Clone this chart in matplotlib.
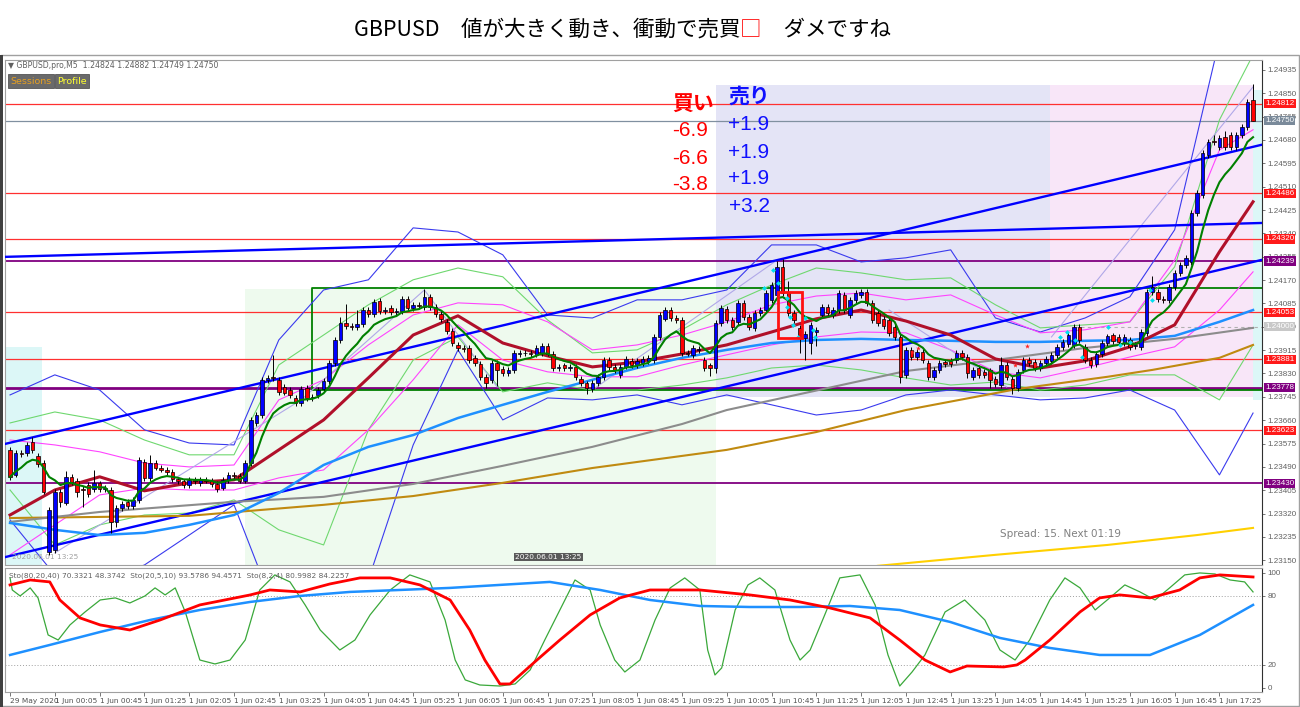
import matplotlib
matplotlib.use('Agg')
import matplotlib.pyplot as plt
from matplotlib.patches import Rectangle
from matplotlib.offsetbox import TextArea, HPacker, AnchoredOffsetbox
import pandas as pd

CJK = ['Noto Sans CJK JP', 'DejaVu Sans']

# ---- M5 candles, bar 0 = 29 May 23:25, bar 8 = 1 Jun 00:05
opens = [
    1.23552, 1.23462, 1.23541, 1.23541, 1.23580, 1.23530, 1.23506, 1.23180, 1.23188, 1.23400,
    1.23360, 1.23454, 1.23440, 1.23410, 1.23425, 1.23410, 1.23430, 1.23410, 1.23406, 1.23290,
    1.23340, 1.23363, 1.23348, 1.23370, 1.23508, 1.23450, 1.23505, 1.23487, 1.23480, 1.23472,
    1.23445, 1.23437, 1.23425, 1.23443, 1.23432, 1.23443, 1.23440, 1.23428, 1.23415, 1.23443,
    1.23460, 1.23457, 1.23440, 1.23505, 1.23650, 1.23679, 1.23807, 1.23818, 1.23807, 1.23780,
    1.23770, 1.23741, 1.23723, 1.23777, 1.23741, 1.23752, 1.23774, 1.23803, 1.23868, 1.23952,
    1.24014, 1.24003, 1.24000, 1.24010, 1.24061, 1.24047, 1.24094, 1.24057, 1.24068, 1.24054,
    1.24058, 1.24101, 1.24068, 1.24079, 1.24072, 1.24108, 1.24072, 1.24047, 1.24018, 1.23985,
    1.23934, 1.23923, 1.23923, 1.23886, 1.23864, 1.23817, 1.23807, 1.23868, 1.23846, 1.23832,
    1.23843, 1.23900, 1.23905, 1.23905, 1.23899, 1.23905, 1.23930, 1.23902, 1.23850, 1.23860,
    1.23850, 1.23855, 1.23810, 1.23794, 1.23774, 1.23796, 1.23817, 1.23879, 1.23854, 1.23825,
    1.23855, 1.23875, 1.23860, 1.23868, 1.23875, 1.23879, 1.23963, 1.24030, 1.24061, 1.24032,
    1.24025, 1.23905, 1.23897, 1.23915, 1.23879, 1.23860, 1.23850, 1.24014, 1.24065, 1.24025,
    1.24018, 1.24087, 1.24036, 1.23996, 1.24050, 1.24061, 1.24098, 1.24116, 1.24218, 1.24127,
    1.24050, 1.23996, 1.23960, 1.23941, 1.23980, 1.24043, 1.24072, 1.24043, 1.24061, 1.24116,
    1.24043, 1.24098, 1.24116, 1.24127, 1.24087, 1.24050, 1.24030, 1.24025, 1.24000, 1.23963,
    1.23825, 1.23916, 1.23890, 1.23909, 1.23868, 1.23817, 1.23843, 1.23872, 1.23875, 1.23879,
    1.23905, 1.23890, 1.23817, 1.23850, 1.23835, 1.23841, 1.23810, 1.23788, 1.23861, 1.23810,
    1.23777, 1.23843, 1.23879, 1.23872, 1.23850, 1.23868, 1.23876, 1.23897, 1.23927, 1.23938,
    1.23934, 1.23999, 1.23927, 1.23879, 1.23864, 1.23901, 1.23941, 1.23969, 1.23963, 1.23941,
    1.23952, 1.23930, 1.23927, 1.23977, 1.24127, 1.24127, 1.24101, 1.24098, 1.24145, 1.24196,
    1.24225, 1.24236, 1.24414, 1.24480, 1.24626, 1.24677, 1.24655, 1.24691, 1.24698, 1.24655,
    1.24698, 1.24728, 1.24824,
]
closes = [
    1.23454, 1.23541, 1.23537, 1.23570, 1.23552, 1.23500, 1.23400, 1.23333, 1.23400, 1.23363,
    1.23454, 1.23435, 1.23400, 1.23405, 1.23390, 1.23430, 1.23410, 1.23415, 1.23290, 1.23340,
    1.23355, 1.23348, 1.23370, 1.23515, 1.23450, 1.23505, 1.23487, 1.23480, 1.23472, 1.23445,
    1.23437, 1.23425, 1.23443, 1.23437, 1.23443, 1.23440, 1.23428, 1.23410, 1.23443, 1.23460,
    1.23457, 1.23440, 1.23505, 1.23661, 1.23679, 1.23807, 1.23815, 1.23812, 1.23763, 1.23760,
    1.23752, 1.23723, 1.23774, 1.23741, 1.23745, 1.23770, 1.23803, 1.23868, 1.23952, 1.24014,
    1.24003, 1.24000, 1.24010, 1.24061, 1.24047, 1.24090, 1.24057, 1.24061, 1.24054, 1.24058,
    1.24101, 1.24068, 1.24079, 1.24075, 1.24108, 1.24072, 1.24047, 1.24029, 1.23985, 1.23941,
    1.23923, 1.23920, 1.23879, 1.23868, 1.23817, 1.23796, 1.23868, 1.23843, 1.23832, 1.23843,
    1.23905, 1.23905, 1.23903, 1.23900, 1.23923, 1.23930, 1.23902, 1.23850, 1.23854, 1.23850,
    1.23855, 1.23817, 1.23794, 1.23777, 1.23796, 1.23817, 1.23879, 1.23854, 1.23843, 1.23855,
    1.23883, 1.23860, 1.23875, 1.23883, 1.23886, 1.23963, 1.24043, 1.24061, 1.24032, 1.24025,
    1.23905, 1.23902, 1.23923, 1.23920, 1.23850, 1.23850, 1.24014, 1.24068, 1.24025, 1.24000,
    1.24087, 1.24036, 1.24000, 1.24050, 1.24061, 1.24123, 1.24152, 1.24218, 1.24123, 1.24050,
    1.24025, 1.23963, 1.23975, 1.24007, 1.23990, 1.24072, 1.24050, 1.24061, 1.24123, 1.24061,
    1.24098, 1.24123, 1.24127, 1.24087, 1.24025, 1.24014, 1.24003, 1.23978, 1.23963, 1.23817,
    1.23916, 1.23890, 1.23909, 1.23879, 1.23817, 1.23843, 1.23868, 1.23864, 1.23864, 1.23905,
    1.23890, 1.23832, 1.23843, 1.23825, 1.23825, 1.23807, 1.23792, 1.23861, 1.23817, 1.23777,
    1.23836, 1.23879, 1.23868, 1.23850, 1.23868, 1.23883, 1.23897, 1.23927, 1.23945, 1.23970,
    1.23999, 1.23952, 1.23879, 1.23860, 1.23901, 1.23941, 1.23965, 1.23948, 1.23945, 1.23963,
    1.23927, 1.23934, 1.23981, 1.24127, 1.24145, 1.24101, 1.24098, 1.24145, 1.24196, 1.24225,
    1.24251, 1.24414, 1.24487, 1.24633, 1.24673, 1.24673, 1.24688, 1.24655, 1.24655, 1.24698,
    1.24728, 1.24818, 1.24750,
]
# wick lengths above / below the body, in pips
wick_up = [
    1, 1, 1, 1, 2, 1, 1, 1, 1, 1, 2, 1, 1, 1, 1, 5, 1, 1, 1, 1,
    1, 1, 1, 1, 1, 3, 1, 1, 1, 1, 1, 1, 1, 1, 1, 1, 1, 1, 1, 1,
    1, 1, 1, 1, 1, 1, 1, 8, 1, 1, 1, 1, 1, 1, 1, 1, 1, 1, 1, 2,
    7, 1, 5, 1, 1, 1, 1, 1, 1, 1, 1, 1, 1, 1, 3, 1, 1, 1, 1, 1,
    1, 1, 1, 1, 1, 1, 1, 1, 1, 1, 1, 1, 1, 1, 1, 1, 1, 1, 1, 1,
    1, 1, 1, 1, 1, 1, 1, 1, 1, 1, 1, 1, 1, 1, 1, 1, 1, 1, 1, 1,
    1, 1, 1, 1, 1, 1, 1, 1, 1, 1, 1, 1, 1, 1, 1, 1, 1, 2, 3, 4,
    1, 1, 1, 1, 1, 1, 1, 1, 1, 1, 1, 1, 1, 1, 1, 1, 1, 1, 1, 1,
    1, 1, 1, 1, 1, 1, 1, 1, 1, 1, 1, 1, 1, 1, 1, 1, 1, 3, 1, 1,
    1, 1, 1, 1, 1, 1, 1, 1, 1, 1, 1, 1, 1, 1, 1, 1, 1, 1, 1, 1,
    1, 1, 1, 1, 4, 1, 1, 1, 1, 1, 1, 1, 1, 1, 1, 2, 1, 2, 1, 1,
    1, 1, 6,
]
wick_dn = [
    1, 1, 1, 1, 1, 1, 1, 1, 1, 2, 1, 1, 2, 6, 1, 1, 1, 1, 4, 2,
    1, 1, 1, 1, 1, 1, 1, 1, 1, 1, 1, 1, 1, 1, 1, 1, 1, 1, 1, 1,
    1, 1, 1, 1, 1, 1, 1, 1, 1, 1, 1, 1, 1, 1, 1, 1, 1, 1, 1, 1,
    1, 1, 1, 1, 1, 1, 1, 1, 1, 1, 1, 1, 1, 1, 1, 1, 1, 1, 1, 1,
    1, 1, 1, 1, 1, 2, 1, 6, 1, 1, 1, 1, 1, 1, 1, 1, 1, 1, 1, 1,
    1, 1, 1, 2, 1, 1, 1, 1, 1, 1, 1, 1, 1, 1, 1, 1, 1, 1, 1, 1,
    1, 1, 1, 1, 1, 3, 2, 1, 1, 1, 1, 1, 1, 1, 1, 1, 1, 1, 1, 1,
    1, 6, 8, 4, 5, 1, 1, 1, 1, 1, 1, 1, 1, 1, 1, 1, 1, 1, 1, 2,
    1, 1, 1, 1, 1, 1, 1, 1, 1, 1, 1, 2, 1, 1, 1, 3, 1, 1, 1, 2,
    1, 1, 1, 1, 1, 1, 1, 1, 1, 1, 1, 1, 1, 1, 1, 1, 1, 1, 1, 1,
    1, 1, 1, 1, 1, 1, 1, 1, 1, 1, 1, 1, 1, 1, 1, 1, 1, 1, 1, 1,
    1, 1, 0,
]

# ---- indicator lines every 8 bars
ma_bars = [0, 8, 16, 24, 32, 40, 48, 56, 64, 72, 80, 88, 96, 104, 112, 120,
           128, 136, 144, 152, 160, 168, 176, 184, 192, 200, 208, 216, 222]
red_ma = [1.23315, 1.23406, 1.23454, 1.23403, 1.23432, 1.23443, 1.23552, 1.23661, 1.23814, 1.23970,
          1.24040, 1.23941, 1.23894, 1.23854, 1.23872, 1.23901, 1.23934, 1.23981, 1.24029, 1.24061,
          1.24021, 1.23970, 1.23883, 1.23850, 1.23876, 1.23927, 1.24007, 1.24273, 1.24455]
blue_ma = [1.23286, 1.23261, 1.23242, 1.23250, 1.23279, 1.23315, 1.23395, 1.23497, 1.23563, 1.23606,
           1.23668, 1.23716, 1.23763, 1.23807, 1.23850, 1.23887, 1.23916, 1.23941, 1.23952, 1.23956,
           1.23952, 1.23949, 1.23945, 1.23945, 1.23949, 1.23952, 1.23967, 1.24018, 1.24061]
bb_blue_up = [1.23752, 1.23825, 1.23770, 1.23625, 1.23577, 1.23570, 1.23952, 1.24134, 1.24171, 1.24360,
              1.24345, 1.24262, 1.24043, 1.24032, 1.24098, 1.24098, 1.24134, 1.24298, 1.24298, 1.24236,
              1.24251, 1.24280, 1.24032, 1.23981, 1.24032, 1.24109, 1.24353, 1.25044, 1.25554]
bb_blue_dn = [1.23297, 1.23097, 1.23079, 1.23133, 1.23242, 1.23352, 1.22933, 1.22860, 1.23079, 1.23570,
              1.23916, 1.23661, 1.23741, 1.23734, 1.23752, 1.23716, 1.23752, 1.23716, 1.23679, 1.23697,
              1.23752, 1.23770, 1.23752, 1.23734, 1.23741, 1.23770, 1.23697, 1.23461, 1.23686]
bb_green_up = [1.23650, 1.23690, 1.23661, 1.23588, 1.23534, 1.23534, 1.23861, 1.23970, 1.24080, 1.24171,
               1.24214, 1.24182, 1.24025, 1.23905, 1.23916, 1.23989, 1.24080, 1.24152, 1.24214, 1.24196,
               1.24171, 1.24178, 1.24080, 1.23996, 1.24007, 1.24018, 1.24218, 1.24753, 1.24990]
bb_green_dn = [1.23406, 1.23206, 1.23279, 1.23315, 1.23322, 1.23370, 1.23261, 1.23206, 1.23625, 1.23879,
               1.23963, 1.23763, 1.23796, 1.23770, 1.23770, 1.23788, 1.23814, 1.23850, 1.23861, 1.23843,
               1.23814, 1.23788, 1.23799, 1.23770, 1.23788, 1.23825, 1.23825, 1.23734, 1.23934]
bb_pink_up = [1.23588, 1.23570, 1.23545, 1.23504, 1.23490, 1.23497, 1.23734, 1.23807, 1.23934, 1.24043,
              1.24087, 1.24080, 1.24018, 1.23916, 1.23934, 1.23970, 1.24018, 1.24080, 1.24112, 1.24123,
              1.24098, 1.24116, 1.24043, 1.23978, 1.23989, 1.24018, 1.24243, 1.24644, 1.24717]
bb_pink_dn = [1.23170, 1.23279, 1.23388, 1.23413, 1.23406, 1.23406, 1.23450, 1.23479, 1.23625, 1.23807,
              1.24007, 1.23879, 1.23836, 1.23818, 1.23818, 1.23861, 1.23898, 1.23934, 1.23963, 1.23981,
              1.23978, 1.23916, 1.23836, 1.23814, 1.23850, 1.23890, 1.23927, 1.24061, 1.24200]

gray_bars = [0, 16, 40, 56, 72, 88, 104, 120, 128, 160, 176, 192, 208, 222]
gray_ma = [1.23290, 1.23326, 1.23363, 1.23381, 1.23428, 1.23494, 1.23563, 1.23646, 1.23697, 1.23839,
           1.23879, 1.23923, 1.23956, 1.23996]
brown_bars = [0, 16, 32, 56, 72, 88, 104, 128, 144, 160, 180, 196, 204, 216, 222]
brown_ma = [1.23304, 1.23308, 1.23312, 1.23352, 1.23384, 1.23432, 1.23486, 1.23552, 1.23617, 1.23697,
            1.23774, 1.23818, 1.23843, 1.23887, 1.23934]
gold_bars = [155, 176, 196, 212, 222]
gold_ma = [1.23130, 1.23170, 1.23206, 1.23242, 1.23268]

# thin zigzag lines
zz_segments = [
    ([8, 52, 74, 87], [1.23177, 1.23734, 1.24134, 1.23781]),
    ([104, 137], [1.23770, 1.24243]),
    ([157, 178], [1.24061, 1.23781]),
    ([186, 222], [1.23963, 1.24873]),
]
cyan_bars = [134.6, 136.3, 137.1, 138.8, 138.8, 139.3, 139.8, 140.7, 142.0, 143.4, 143.8,
             187.5, 188.8, 190.2, 191.4, 196.1, 198.2, 200.0, 203.6, 203.9]
cyan_prices = [1.24141, 1.24207, 1.24160, 1.24105, 1.24072, 1.24036, 1.24007, 1.23963, 1.24032, 1.23989,
               1.23963, 1.23963, 1.23981, 1.23952, 1.23890, 1.23999, 1.23934, 1.23945, 1.24134, 1.24098]
star_bars = [161.1, 162.1, 179.5, 181.6, 183.0]
star_prices = [1.23909, 1.23923, 1.23861, 1.23930, 1.23861]

# trend lines: two anchor points each (bar, price)
trend_lines = [((0, 1.23578), (222, 1.24655)),
               ((0, 1.23166), (222, 1.24236)),
               ((0, 1.24255), (222, 1.24377))]

red_levels = [1.24812, 1.24486, 1.24320, 1.24053, 1.23881, 1.23623]
purple_levels = [1.24239, 1.23778, 1.23430]
last_price = 1.24750
mid_level = 1.24000

# session boxes: start bar, end bar, low, high, colour
sess_start = [-0.9, 42, 126, 185.7, 222]
sess_end = [5.7, 126, 185.7, 222, 223.6]
sess_low = [1.23133, 1.23133, 1.23745, 1.23745, 1.23734]
sess_high = [1.23927, 1.24138, 1.24880, 1.24880, 1.24862]
sess_col = ['#dcf7f7', '#eefaee', '#e4e4f6', '#f8e6f8', '#dcf7f7']

price_ticks = [1.23150, 1.23235, 1.23320, 1.23405, 1.23490, 1.23575, 1.23660, 1.23745, 1.23830,
               1.23915, 1.24000, 1.24085, 1.24170, 1.24255, 1.24340, 1.24425, 1.24510, 1.24595,
               1.24680, 1.24765, 1.24850, 1.24935]
time_labels = ['29 May 2020', '1 Jun 00:05', '1 Jun 00:45', '1 Jun 01:25', '1 Jun 02:05', '1 Jun 02:45',
               '1 Jun 03:25', '1 Jun 04:05', '1 Jun 04:45', '1 Jun 05:25', '1 Jun 06:05', '1 Jun 06:45',
               '1 Jun 07:25', '1 Jun 08:05', '1 Jun 08:45', '1 Jun 09:25', '1 Jun 10:05', '1 Jun 10:45',
               '1 Jun 11:25', '1 Jun 12:05', '1 Jun 12:45', '1 Jun 13:25', '1 Jun 14:05', '1 Jun 14:45',
               '1 Jun 15:25', '1 Jun 16:05', '1 Jun 16:45', '1 Jun 17:25']

# ---- stochastics
sto_slow_bars = [0, 7.1, 16.1, 25, 33.9, 42.9, 51.8, 60.7, 69.6, 78.6, 87.5, 96.4, 105.4, 114.3,
                 123.2, 132.1, 141.1, 150, 158.9, 167.9, 176.8, 185.7, 194.6, 203.6, 212.5, 222]
sto_slow = [28.7, 37.4, 48.7, 59.1, 67.8, 74.8, 80.0, 83.5, 85.2, 87.0, 89.6, 92.2, 85.2, 76.5,
            71.3, 70.4, 70.4, 71.3, 67.8, 57.4, 43.5, 34.8, 28.7, 28.7, 46.1, 72.2]
sto_mid_bars = [0, 3.6, 7.1, 8.9, 12.5, 16.1, 21.4, 26.8, 33.9, 42.9, 46.4, 51.8, 57.1, 62.5, 67.9,
                73.2, 78.6, 82.1, 84.8, 87.5, 89.3, 94.1, 98.2, 103.6, 108.9, 114.3, 123.2, 132.1,
                139.3, 146.4, 153.6, 158.9, 163.4, 167.9, 170.9, 177.5, 179.8, 181.3, 185.7, 191.1,
                194.6, 198.2, 203.6, 208.9, 212.5, 216.1, 222]
sto_mid = [89.6, 93.9, 92.2, 76.5, 60.9, 54.8, 50.4, 59.1, 72.2, 80.9, 85.2, 83.5, 90.4, 95.7, 95.7,
           89.6, 76.5, 50.4, 24.3, 3.5, 3.5, 24.3, 41.7, 63.5, 78.3, 85.2, 85.2, 80.9,
           76.5, 69.6, 60.9, 41.7, 24.3, 13.9, 19.1, 18.3, 20.0, 24.3, 41.7, 66.1,
           78.3, 80.9, 78.3, 85.2, 95.7, 98.3, 96.5]
sto_fast_bars = [0, 0.4, 1.8, 3.6, 5.0, 6.8, 8.6, 10.7, 13.4, 16.1, 18.8, 21.4, 24.1, 25.9, 27.7,
                 29.5, 31.3, 33.9, 36.6, 39.3, 42.0, 44.6, 47.3, 50.0, 52.7, 55.4, 58.9, 61.6, 64.3,
                 67.9, 71.4, 75.0, 77.7, 79.5, 81.3, 83.9, 87.5, 90.2, 92.9, 95.5, 98.2, 100.9, 103.6,
                 105.4, 108.0, 109.8, 112.5, 115.2, 117.9, 120.5, 123.2, 124.6, 125.9, 127.1, 129.5,
                 131.8, 133.9, 136.6, 139.3, 141.1, 142.9, 145.5, 148.2, 151.8, 154.5, 156.8, 158.9,
                 161.1, 163.4, 167.0, 170.5, 174.1, 176.8, 179.5, 182.1, 185.7, 188.4, 191.1, 193.8,
                 196.4, 199.1, 201.8, 204.5, 207.1, 209.8, 212.5, 215.2, 217.9, 220.5, 222]
sto_fast = [95.7, 85.2, 80.0, 87.0, 78.3, 46.1, 41.7, 54.8, 66.1, 76.5, 78.3, 73.9, 80.0, 87.0, 80.9,
            87.0, 66.1, 24.3, 20.9, 24.3, 41.7, 85.2, 98.3, 92.2, 72.2, 50.4, 33.0, 41.7, 63.5,
            85.2, 98.3, 92.2, 59.1, 24.3, 7.0, 2.6, 1.7, 3.5, 15.7, 41.7, 67.8, 93.9, 85.2,
            54.8, 24.3, 13.9, 24.3, 59.1, 87.0, 95.7, 85.2, 33.0, 11.3, 17.4, 67.8,
            89.6, 95.7, 85.2, 41.7, 24.3, 33.0, 63.5, 95.7, 98.3, 72.2, 28.7, 1.7,
            13.9, 28.7, 66.1, 76.5, 59.1, 33.0, 24.3, 41.7, 76.5, 95.7, 87.0, 67.8,
            78.3, 89.6, 83.5, 76.5, 87.0, 98.3, 100.0, 99.1, 93.9, 92.2, 83.5]


def fx(px):
    return px / 1300


def fy(py):
    return 1 - py / 707


AXFONT = 'Liberation Sans'

fig = plt.figure(figsize=(13, 7.07), dpi=100)
ax = fig.add_axes([fx(5), fy(565), 1257 / 1300, 505 / 707])
ax2 = fig.add_axes([fx(5), fy(692), 1257 / 1300, 124 / 707], sharex=ax)

# chart window frame
fig.add_artist(Rectangle((fx(1), fy(706)), fx(1298), 651 / 707, transform=fig.transFigure,
                         fill=False, ec='#a0a0a0', lw=1))
fig.add_artist(Rectangle((0, 0), fx(3), fy(55), transform=fig.transFigure,
                         fc='#404040', ec='none'))

# title
parts = [('GBPUSD\u3000値が大きく動き、衝動で売買', 'black'), ('□', 'red'), ('\u3000ダメですね', 'black')]
boxes = [TextArea(t, textprops=dict(color=c, fontsize=15.5, family=CJK)) for t, c in parts]
title = AnchoredOffsetbox(loc='center', child=HPacker(children=boxes, align='baseline', pad=0, sep=0),
                          frameon=False, bbox_to_anchor=(fx(622), fy(30)),
                          bbox_transform=fig.transFigure, pad=0, borderpad=0)
fig.add_artist(title)

# ---- price panel
for s, e, lo, hi, col in zip(sess_start, sess_end, sess_low, sess_high, sess_col):
    ax.add_patch(Rectangle((s, lo), e - s, hi - lo, fc=col, ec='none', zorder=0))

for p in red_levels:
    ax.axhline(p, color='#ff3030', lw=0.9, zorder=1)
for p in purple_levels:
    ax.axhline(p, color='#800080', lw=2.0 if p == 1.23778 else 1.3, zorder=1)
ax.axhline(last_price, color='#8090a0', lw=0.9, zorder=1)
ax.plot([190, 224], [mid_level, mid_level], color='#b0b0b0', lw=0.8, ls=(0, (3, 3)), zorder=1)

# green box
ax.plot([224, 54, 54, 224], [1.24140, 1.24140, 1.23771, 1.23771], color='#008000', lw=1.3, zorder=2)

for (b1, p1), (b2, p2) in trend_lines:
    ax.axline((b1, p1), (b2, p2), color='#0000ff', lw=1.7, zorder=3)

ax.plot(ma_bars, bb_blue_up, color='#3a3aee', lw=0.8, zorder=2)
ax.plot(ma_bars, bb_blue_dn, color='#3a3aee', lw=0.8, zorder=2)
ax.plot(ma_bars, bb_green_up, color='#6fd86f', lw=0.8, zorder=2)
ax.plot(ma_bars, bb_green_dn, color='#6fd86f', lw=0.8, zorder=2)
ax.plot(ma_bars, bb_pink_up, color='#ff44ff', lw=0.8, zorder=2)
ax.plot(ma_bars, bb_pink_dn, color='#ff44ff', lw=0.8, zorder=2)
for bars, prices in zz_segments:
    ax.plot(bars, prices, color='#b0a8e8', lw=0.8, zorder=2)

ax.plot(gold_bars, gold_ma, color='#ffd000', lw=1.5, zorder=3)
ax.plot(brown_bars, brown_ma, color='#c08a10', lw=1.5, zorder=3)
ax.plot(gray_bars, gray_ma, color='#8c8c8c', lw=1.5, zorder=3)
ax.plot(ma_bars, blue_ma, color='#1e90ff', lw=1.8, zorder=3)
ax.plot(ma_bars, red_ma, color='#b0102a', lw=2.2, zorder=3)

green_ma = pd.Series(closes).ewm(span=8, adjust=False).mean()
ax.plot(range(len(closes)), green_ma, color='#008000', lw=1.5, zorder=6)

# candles
for i, (o, c, up, dn) in enumerate(zip(opens, closes, wick_up, wick_dn)):
    hi = max(o, c) + up * 0.0001
    lo = min(o, c) - dn * 0.0001
    ax.vlines(i, lo, hi, color='black', lw=0.7, zorder=4)
    ax.bar(i, c - o, bottom=o, width=0.62, color='#0000ff' if c >= o else '#ff0000',
           edgecolor='black', lw=0.5, zorder=5)

ax.scatter(cyan_bars, cyan_prices, marker='D', s=6, color='#00e0f0', zorder=7, lw=0)
ax.scatter(star_bars, star_prices, marker='*', s=14, color='#ff2020', zorder=7, lw=0)

ax.add_patch(Rectangle((137.1, 1.23960), 4.3, 0.00168, fill=False, ec='#ff1010', lw=2, zorder=8))

ax.set_xlim(-0.9, 223.6)
ax.set_ylim(1.23133, 1.24971)
ax.yaxis.tick_right()
ax.set_yticks(price_ticks)
ax.set_yticklabels([f'{v:.5f}' for v in price_ticks], fontsize=5.8, color='#606060', family=AXFONT)
ax.tick_params(axis='y', length=2.5, width=0.6, color='#606060', pad=1.5)
ax.tick_params(axis='x', bottom=False, labelbottom=False)
for sp in ax.spines.values():
    sp.set_color('#a0a0a0')
    sp.set_linewidth(0.8)
ax.spines['right'].set_color('#303030')

ytr = ax.get_yaxis_transform()
level_boxes = [(p, '#ff1a1a') for p in red_levels] + [(p, '#800080') for p in purple_levels] + \
              [(last_price, '#7a8a9a'), (mid_level, '#c8c8c8')]
for p, col in level_boxes:
    ax.annotate(f'{p:.5f}', xy=(1.0, p), xycoords=ytr, xytext=(2.2, 0), textcoords='offset points',
                ha='left', va='center', fontsize=5.8, color='white', family=AXFONT,
                annotation_clip=False, zorder=10,
                bbox=dict(boxstyle='square,pad=0.15', fc=col, ec='none'))

# header and buttons
fig.text(fx(8), fy(66), '\u25bc GBPUSD,pro,M5  1.24824 1.24882 1.24749 1.24750', fontsize=5.6,
         color='#606060', va='center')
fig.text(fx(10), fy(81), 'Sessions', fontsize=6.8, color='#e8a020', va='center',
         bbox=dict(boxstyle='square,pad=0.25', fc='#6a6a6a', ec='#404040', lw=0.5))
fig.text(fx(57), fy(81), 'Profile', fontsize=6.8, color='#ffff30', va='center',
         bbox=dict(boxstyle='square,pad=0.25', fc='#6a6a6a', ec='#404040', lw=0.5))

# trade notes
fig.text(fx(693), fy(104), '買い', color='#ff0000', fontsize=15, fontweight='bold', family=CJK,
         ha='center', va='center')
fig.text(fx(749), fy(96), '売り', color='#1010ff', fontsize=15, fontweight='bold', family=CJK,
         ha='center', va='center')
for txt, py in zip(['-6.9', '-6.6', '-3.8'], [131, 158, 185]):
    fig.text(fx(690), fy(py), txt, color='#ff0000', fontsize=15, family='Liberation Sans',
             ha='center', va='center')
for txt, py in zip(['+1.9', '+1.9', '+1.9', '+3.2'], [124, 152, 179, 206]):
    fig.text(fx(749), fy(py), txt, color='#1010ff', fontsize=15, family='Liberation Sans',
             ha='center', va='center')

fig.text(fx(1000), fy(534), 'Spread: 15. Next 01:19', fontsize=7.5, color='#808080', va='center')
fig.text(fx(12), fy(557), '2020.06.01 13:25', fontsize=5.3, color='#a0a0a0', va='center')
fig.text(fx(515), fy(557), '2020.06.01 13:25', fontsize=5.3, color='white', va='center',
         bbox=dict(boxstyle='square,pad=0.2', fc='#5a5a5a', ec='none'))

# ---- stochastic panel
ax2.axhline(80, color='#a0a0a0', lw=0.7, ls=(0, (1, 2)))
ax2.axhline(20, color='#a0a0a0', lw=0.7, ls=(0, (1, 2)))
ax2.plot(sto_fast_bars, sto_fast, color='#3aa83a', lw=0.9)
ax2.plot(sto_slow_bars, sto_slow, color='#1e90ff', lw=1.8)
ax2.plot(sto_mid_bars, sto_mid, color='#ff0000', lw=2.0)
ax2.set_ylim(-3.5, 104.3)
ax2.yaxis.tick_right()
ax2.set_yticks([0, 20, 80, 100])
ax2.set_yticklabels(['0', '20', '80', '100'], fontsize=5.8, color='#606060', family=AXFONT)
ax2.tick_params(axis='y', length=2.5, width=0.6, color='#606060', pad=1.5)
ax2.set_xticks(ma_bars[:-1])
ax2.set_xticklabels(time_labels, fontsize=5.3, color='#505050', ha='left')
ax2.tick_params(axis='x', length=3, width=0.6, color='#606060', pad=1.5)
for sp in ax2.spines.values():
    sp.set_color('#a0a0a0')
    sp.set_linewidth(0.8)
ax2.spines['right'].set_color('#303030')
ax2.text(0.003, 0.96, 'Sto(80,20,40) 70.3321 48.3742  Sto(20,5,10) 93.5786 94.4571  Sto(8,2,4) 80.9982 84.2257',
         transform=ax2.transAxes, fontsize=5.3, color='#606060', va='top')

fig.savefig('out.png', dpi=100)
